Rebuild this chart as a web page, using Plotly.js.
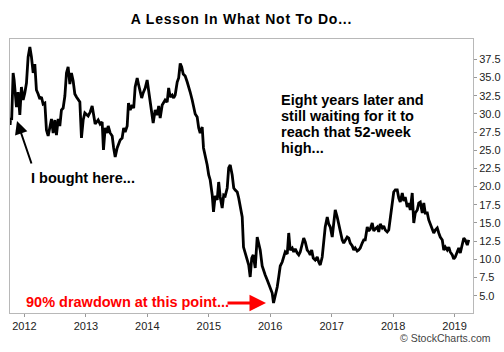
<!DOCTYPE html>
<html>
<head>
<meta charset="utf-8">
<script src="https://cdn.plot.ly/plotly-3.0.1.min.js"></script>
<style>
html,body{margin:0;padding:0;background:#fff;}
#chart{width:504px;height:352px;}
#chart .gtitle{letter-spacing:0.8px;}
</style>
</head>
<body>
<div id="chart"></div>
<script>
// Time in decimal years, price in dollars
const years = [
2011.767,2011.775,2011.792,2011.816,2011.832,2011.849,2011.870,2011.897,2011.925,2011.951,
2011.979,2012.006,2012.033,2012.060,2012.088,2012.114,2012.142,2012.169,2012.195,2012.223,
2012.251,2012.277,2012.304,2012.332,2012.358,2012.386,2012.414,2012.440,2012.467,2012.495,
2012.521,2012.549,2012.576,2012.602,2012.630,2012.658,2012.684,2012.711,2012.739,2012.765,
2012.793,2012.820,2012.847,2012.874,2012.902,2012.928,2012.956,2012.983,2013.009,2013.037,
2013.070,2013.102,2013.151,2013.200,2013.232,2013.265,2013.286,2013.314,2013.346,2013.363,
2013.395,2013.428,2013.452,2013.477,2013.509,2013.533,2013.558,2013.590,2013.615,2013.639,
2013.672,2013.693,2013.721,2013.753,2013.778,2013.802,2013.835,2013.859,2013.884,2013.908,
2013.932,2013.965,2013.997,2014.022,2014.046,2014.071,2014.095,2014.128,2014.160,2014.185,
2014.209,2014.242,2014.266,2014.290,2014.323,2014.347,2014.372,2014.404,2014.429,2014.453,
2014.486,2014.510,2014.535,2014.559,2014.584,2014.616,2014.649,2014.673,2014.697,2014.730,
2014.754,2014.779,2014.811,2014.836,2014.860,2014.893,2014.914,2014.942,2014.974,2014.999,
2015.023,2015.056,2015.077,2015.104,2015.137,2015.161,2015.186,2015.218,2015.243,2015.267,
2015.300,2015.324,2015.349,2015.381,2015.406,2015.430,2015.463,2015.487,2015.511,2015.544,
2015.565,2015.593,2015.625,2015.650,2015.674,2015.699,2015.723,2015.756,2015.788,2015.812,
2015.837,2015.869,2015.894,2015.918,2015.951,2015.975,2016.000,2016.032,2016.054,2016.081,
2016.114,2016.138,2016.163,2016.195,2016.220,2016.244,2016.277,2016.301,2016.325,2016.358,
2016.382,2016.407,2016.439,2016.464,2016.488,2016.521,2016.545,2016.570,2016.602,2016.627,
2016.651,2016.675,2016.700,2016.732,2016.765,2016.789,2016.814,2016.846,2016.871,2016.895,
2016.928,2016.952,2016.977,2017.009,2017.034,2017.058,2017.090,2017.115,2017.139,2017.172,
2017.196,2017.221,2017.253,2017.278,2017.302,2017.335,2017.359,2017.383,2017.416,2017.440,
2017.465,2017.497,2017.522,2017.546,2017.579,2017.603,2017.628,2017.660,2017.685,2017.709,
2017.742,2017.766,2017.790,2017.823,2017.847,2017.872,2017.904,2017.929,2017.953,2017.986,
2018.010,2018.035,2018.067,2018.092,2018.116,2018.149,2018.173,2018.197,2018.230,2018.254,
2018.279,2018.311,2018.336,2018.360,2018.393,2018.417,2018.442,2018.474,2018.499,2018.523,
2018.556,2018.580,2018.604,2018.637,2018.661,2018.686,2018.718,2018.743,2018.767,2018.800,
2018.824,2018.849,2018.881,2018.906,2018.930,2018.963,2018.987,2019.011,2019.044,2019.068,
2019.093,2019.125,2019.150,2019.174,2019.207,2019.231
];
const prices = [
28.47,29.43,29.15,35.62,34.65,32.59,30.94,33.00,29.84,33.69,
31.90,32.87,34.24,37.82,39.19,37.82,35.62,36.85,33.28,32.73,
32.04,32.32,31.35,31.49,27.78,26.96,28.19,29.29,27.37,29.15,
27.09,29.29,28.33,30.53,30.80,32.45,35.62,36.44,34.10,35.62,
34.52,32.73,32.32,31.90,31.63,26.68,29.15,30.12,29.84,29.70,
30.25,31.08,28.60,29.15,28.60,28.88,25.03,28.06,27.37,28.33,
27.37,26.96,25.31,24.07,25.31,25.99,26.41,26.68,28.06,27.51,
28.33,31.49,30.53,31.22,30.80,33.69,34.93,33.97,33.00,32.18,
32.87,33.55,34.65,33.28,31.63,30.25,28.74,30.53,29.84,31.08,
29.43,31.22,31.49,31.90,31.63,33.55,32.32,32.59,32.18,32.59,
34.38,34.93,36.92,36.44,35.48,35.20,34.38,33.83,33.00,31.90,
30.94,29.98,29.57,28.06,27.37,28.19,25.31,24.34,22.97,21.59,
20.91,18.84,16.51,18.71,18.16,20.63,18.57,17.06,18.84,18.71,
19.81,22.56,22.97,21.59,19.81,19.53,19.26,18.43,17.47,15.82,
11.69,10.87,9.63,9.22,7.57,10.18,10.60,8.81,13.07,11.97,
11.28,9.08,8.26,7.85,7.16,6.61,6.20,5.37,4.00,4.82,
6.20,7.57,9.08,9.63,10.32,11.01,10.73,13.62,11.28,11.56,
11.01,11.42,10.87,10.60,11.01,12.24,12.93,12.38,11.28,11.01,
10.60,11.28,10.18,9.91,10.32,9.63,9.22,10.32,13.07,14.44,
15.82,14.86,14.44,13.07,14.99,16.78,15.82,14.86,13.62,12.66,
12.24,12.66,13.07,12.93,12.24,11.83,11.28,11.56,11.15,11.28,
11.56,12.24,12.66,12.66,14.44,13.89,14.17,14.99,13.89,14.17,
14.44,13.76,14.86,14.31,14.58,14.03,13.76,14.03,15.68,17.88,
19.26,19.53,19.53,18.43,17.88,19.12,18.02,18.57,17.19,17.74,
16.78,19.12,14.99,16.37,16.78,17.74,17.88,16.37,17.74,16.37,
16.37,15.41,14.86,14.17,13.62,14.03,14.31,13.62,13.07,12.66,
11.28,11.69,11.28,11.69,11.01,10.60,10.05,10.32,11.01,11.56,
10.87,12.24,12.93,12.66,11.97,12.66
];
const xTickVals = [2012,2013,2014,2015,2016,2017,2018,2019];
const xTickText = ['2012','2013','2014','2015','2016','2017','2018','2019'];
const yTickVals = [5,7.5,10,12.5,15,17.5,20,22.5,25,27.5,30,32.5,35,37.5];
const yTickText = ['5.0','7.5','10.0','12.5','15.0','17.5','20.0','22.5','25.0','27.5','30.0','32.5','35.0','37.5'];
const titleText = 'A Lesson In What Not To Do...';
const noteLines = ['Eight years later and','still waiting for it to','reach that 52-week','high...'];
const boughtText = 'I bought here...';
const drawdownText = '90% drawdown at this point...';
const creditText = '\u00A9 StockCharts.com';

const FONT = 'Liberation Sans, Arial, Helvetica, sans-serif';

const trace = {
  x: years, y: prices, type: 'scatter', mode: 'lines',
  line: {color: '#000', width: 2.8},
  hoverinfo: 'skip'
};

// plot area: left 10, right 473, top 39, bottom 313
const H = 274, W = 463;
function px(x){ return (x - 10) / W; }
function py(y){ return (313 - y) / H; }

const annotations = [];
const noteY = [100, 116, 132, 148];
noteLines.forEach((t, i) => {
  annotations.push({xref:'paper', yref:'paper', x: px(279), y: py(noteY[i]), xanchor:'left', yanchor:'middle',
    text: t, showarrow:false, font:{family:FONT, size:14.5, color:'#000', weight:'bold'}});
});
annotations.push({xref:'paper', yref:'paper', x: px(29), y: py(177.5), xanchor:'left', yanchor:'middle',
  text: boughtText, showarrow:false, font:{family:FONT, size:14.5, color:'#000', weight:'bold'}});
annotations.push({xref:'paper', yref:'paper', x: px(24), y: py(301.5), xanchor:'left', yanchor:'middle',
  text: drawdownText, showarrow:false, font:{family:FONT, size:14.5, color:'#ff0000', weight:'bold'}});
// black arrow
annotations.push({xref:'paper', yref:'paper', x: px(17), y: py(121), ax: 15, ay: 44,
  text:'', showarrow:true, arrowhead:2, arrowsize:1.3, arrowwidth:2, arrowcolor:'#000'});
// red arrow
annotations.push({xref:'paper', yref:'paper', x: px(266), y: py(303), ax: -40, ay: 0,
  text:'', showarrow:true, arrowhead:2, arrowsize:1.1, arrowwidth:3, arrowcolor:'#ff0000'});
// credit
annotations.push({xref:'paper', yref:'paper', x: 1 + (493-473)/W, y: py(338), xanchor:'right', yanchor:'middle',
  text: creditText, showarrow:false, font:{family:FONT, size:10.5, color:'#444'}});

const layout = {
  width: 504, height: 352,
  margin: {l:10, r:31, t:39, b:39, pad:0},
  paper_bgcolor:'#fff', plot_bgcolor:'#fff',
  showlegend:false,
  title: {text: titleText, x:0.5, xref:'paper', xanchor:'center', y: 1 - 19/352, yref:'container', yanchor:'middle',
    font:{family:FONT, size:14, color:'#000', weight:'bold'}},
  xaxis: {
    range:[2011.765, 2019.30], tickvals:xTickVals, ticktext:xTickText,
    ticks:'outside', ticklen:3, tickcolor:'#999', tickwidth:1,
    showgrid:false, zeroline:false, showline:true, linecolor:'#b8b8b8', linewidth:1, mirror:true,
    tickfont:{family:FONT, size:11, color:'#222'}, fixedrange:true
  },
  yaxis: {
    side:'right', range:[2.62, 40.29], tickvals:yTickVals, ticktext:yTickText,
    ticks:'outside', ticklen:3, tickcolor:'#999', tickwidth:1,
    showgrid:false, zeroline:false, showline:true, linecolor:'#b8b8b8', linewidth:1, mirror:true,
    tickfont:{family:FONT, size:11, color:'#222'}, fixedrange:true
  },
  annotations: annotations
};

Plotly.newPlot('chart', [trace], layout, {displayModeBar:false, staticPlot:true});
</script>
</body>
</html>
